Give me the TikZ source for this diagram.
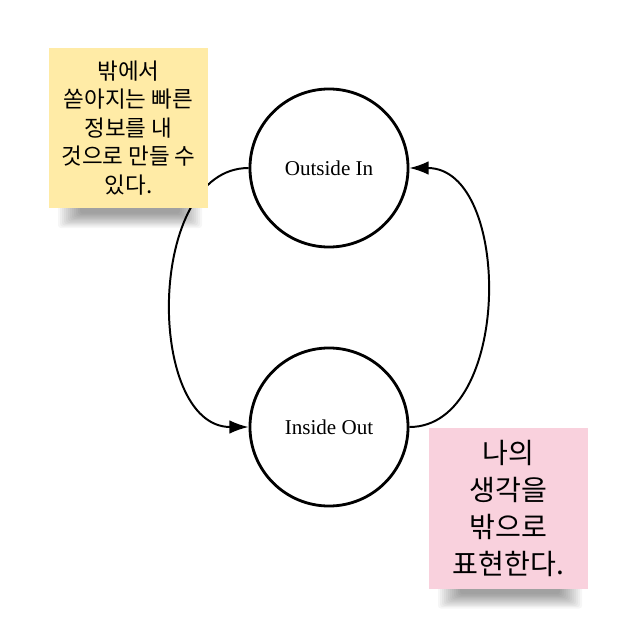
\documentclass[tikz,border=0pt]{standalone}
\usepackage{fontspec}
\setmainfont{Liberation Serif}
\newfontfamily\krfont{Noto Sans CJK KR}
\usetikzlibrary{positioning,arrows.meta}
\definecolor{noteyellow}{HTML}{FFEBA6}
\definecolor{notepink}{HTML}{F9D1DD}

\begin{document}
\begin{tikzpicture}[x=0.025cm,y=-0.025cm,
  state/.style={circle,draw,line width=2pt,minimum size=3.95cm,font=\fontsize{15}{18}\selectfont},
  flow/.style={line width=1.4pt,-{Latex[length=4.8mm,width=3.4mm]}},
  note/.style={minimum width=3.975cm,minimum height=4cm,align=center,inner sep=0pt},
  noteshadow/.style={black,opacity=0.035,rounded corners=2pt}]
\useasboundingbox (0,0) rectangle (638,638);
\fill[white] (0,0) rectangle (638,638);
% the two states
\node[state] (outin) at (329,168) {Outside In};
\node[state] (inout) at (329,427) {Inside Out};
% the loop between them
\draw[flow] (outin.west) .. controls +(-103,0) and +(-103,0) .. (inout.west);
\draw[flow] (inout.east) .. controls +(103,0) and +(103,0) .. (outin.east);
% soft shadows under the notes
\foreach \cx/\by in {130/208, 510/588.5}
  \foreach \k in {0,...,11}
    \fill[noteshadow] (\cx-72+2*\k,\by-10) rectangle (\cx+72-2*\k,\by+20-1.3*\k);
% sticky notes
\node[note,fill=noteyellow,font=\krfont\fontsize{16}{20.3}\selectfont] (outnote) at (128.5,128)
  {밖에서\\쏟아지는 빠른\\정보를 내\\것으로 만들 수\\있다.};
\node[note,fill=notepink,font=\krfont\fontsize{20}{26.4}\selectfont] (innote) at (508.5,508.5)
  {나의\\생각을\\밖으로\\표현한다.};
\end{tikzpicture}
\end{document}
